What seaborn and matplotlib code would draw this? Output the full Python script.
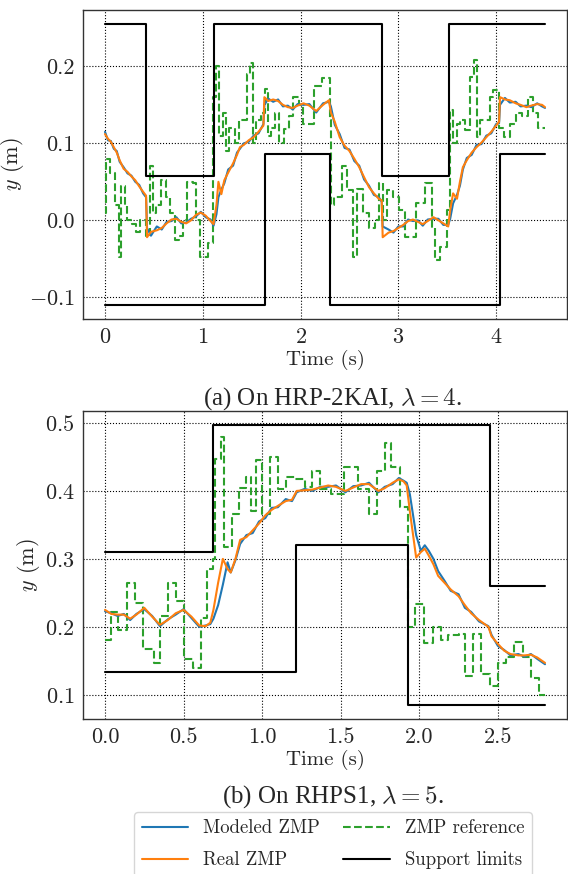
import numpy as np
import pandas as pd
import matplotlib
matplotlib.use("Agg")
import matplotlib.pyplot as plt
import seaborn as sns

# ---- (a) HRP-2KAI ----
t_top = [0.00, 0.03, 0.06, 0.09, 0.12, 0.15, 0.19, 0.23, 0.27, 0.31, 0.35, 0.39, 0.42, 0.43,
         0.47, 0.53, 0.58, 0.63, 0.68, 0.73, 0.78, 0.83, 0.88, 0.93, 0.98, 1.03, 1.08, 1.11,
         1.14, 1.16, 1.19, 1.22, 1.26, 1.31, 1.35, 1.38, 1.42, 1.47, 1.52, 1.57, 1.62, 1.63,
         1.67, 1.72, 1.77, 1.82, 1.87, 1.92, 1.97, 2.03, 2.09, 2.16, 2.23, 2.29, 2.31, 2.35,
         2.40, 2.45, 2.50, 2.55, 2.60, 2.65, 2.70, 2.75, 2.80, 2.83, 2.84, 2.90, 2.95, 3.00,
         3.05, 3.10, 3.15, 3.20, 3.25, 3.30, 3.36, 3.41, 3.46, 3.51, 3.53, 3.56, 3.60, 3.63,
         3.66, 3.70, 3.75, 3.80, 3.85, 3.90, 3.95, 4.00, 4.03, 4.04, 4.09, 4.14, 4.20, 4.25,
         4.31, 4.36, 4.42, 4.47, 4.50]
real_top = [0.112, 0.106, 0.102, 0.095, 0.088, 0.078, 0.067, 0.063, 0.057, 0.052, 0.044, 0.037,
            0.032, -0.022, -0.015, -0.013, -0.010, -0.004, 0.001, 0.002, -0.002, -0.004, 0.000,
            0.007, 0.010, 0.006, -0.001, -0.005, 0.020, 0.050, 0.034, 0.052, 0.062, 0.074, 0.085,
            0.095, 0.098, 0.104, 0.108, 0.115, 0.123, 0.160, 0.155, 0.157, 0.155, 0.150, 0.147,
            0.146, 0.149, 0.152, 0.149, 0.142, 0.150, 0.156, 0.140, 0.128, 0.108, 0.097, 0.090,
            0.080, 0.069, 0.056, 0.043, 0.035, 0.028, 0.026, -0.022, -0.016, -0.014, -0.010,
            -0.006, -0.001, 0.001, -0.002, -0.005, -0.001, 0.004, 0.000, -0.004, -0.008, 0.013,
            0.035, 0.028, 0.050, 0.069, 0.078, 0.088, 0.095, 0.101, 0.108, 0.115, 0.123, 0.128,
            0.160, 0.157, 0.156, 0.152, 0.150, 0.147, 0.149, 0.151, 0.150, 0.147]
model_top = [0.115, 0.104, 0.103, 0.093, 0.090, 0.076, 0.069, 0.061, 0.058, 0.050, 0.046, 0.035,
             0.030, -0.010, -0.020, -0.008, -0.012, -0.002, -0.001, 0.004, -0.004, -0.003, 0.002,
             0.005, 0.011, 0.004, 0.001, -0.007, 0.008, 0.030, 0.040, 0.048, 0.066, 0.071, 0.088,
             0.093, 0.100, 0.102, 0.110, 0.113, 0.125, 0.150, 0.158, 0.154, 0.157, 0.148, 0.149,
             0.144, 0.151, 0.150, 0.151, 0.140, 0.152, 0.154, 0.148, 0.124, 0.112, 0.094, 0.092,
             0.077, 0.071, 0.053, 0.045, 0.033, 0.030, 0.024, -0.008, -0.012, -0.016, -0.008,
             -0.008, 0.001, -0.001, 0.000, -0.007, 0.001, 0.002, 0.002, -0.006, -0.006, 0.002,
             0.022, 0.033, 0.045, 0.066, 0.081, 0.085, 0.098, 0.099, 0.110, 0.113, 0.125, 0.126,
             0.150, 0.159, 0.153, 0.154, 0.148, 0.149, 0.147, 0.152, 0.148, 0.146]

t_ref_top = [0.00, 0.01, 0.05, 0.10, 0.14, 0.16, 0.20, 0.23, 0.28, 0.32, 0.36, 0.42, 0.46, 0.49,
             0.52, 0.57, 0.62, 0.66, 0.72, 0.76, 0.80, 0.84, 0.90, 0.93, 0.97, 1.05, 1.10, 1.14,
             1.17, 1.21, 1.24, 1.27, 1.33, 1.37, 1.41, 1.45, 1.48, 1.51, 1.54, 1.60, 1.64, 1.67,
             1.70, 1.74, 1.78, 1.83, 1.88, 1.92, 1.98, 2.03, 2.14, 2.22, 2.30, 2.31, 2.34, 2.42,
             2.47, 2.54, 2.58, 2.64, 2.70, 2.76, 2.80, 2.84, 2.88, 2.95, 3.01, 3.07, 3.18, 3.27,
             3.34, 3.38, 3.43, 3.50, 3.53, 3.56, 3.60, 3.63, 3.68, 3.73, 3.77, 3.80, 3.84, 3.90,
             3.94, 3.97, 4.03, 4.08, 4.14, 4.20, 4.26, 4.33, 4.38, 4.43, 4.47, 4.50]
ref_top = [0.010, 0.080, 0.062, 0.020, -0.048, 0.045, 0.020, 0.000, -0.005, -0.015, 0.000, -0.020,
           0.070, 0.010, 0.020, 0.052, 0.030, 0.010, -0.025, -0.020, 0.000, 0.050, 0.048, 0.000,
           -0.048, -0.030, 0.160, 0.200, 0.110, 0.140, 0.090, 0.120, 0.100, 0.130, 0.130, 0.190,
           0.205, 0.100, 0.130, 0.140, 0.170, 0.110, 0.120, 0.140, 0.100, 0.118, 0.135, 0.160,
           0.150, 0.125, 0.175, 0.185, 0.130, 0.020, 0.030, 0.070, 0.040, -0.048, 0.041, 0.010,
           -0.010, 0.000, 0.048, 0.000, 0.040, 0.030, 0.013, -0.022, 0.022, 0.048, -0.010, -0.052,
           -0.035, 0.013, 0.143, 0.100, 0.125, 0.130, 0.117, 0.186, 0.208, 0.108, 0.130, 0.130,
           0.160, 0.169, 0.120, 0.108, 0.125, 0.140, 0.135, 0.160, 0.140, 0.120, 0.120, 0.120]

t_sup_top = [0.0, 0.42, 1.11, 2.83, 3.52, 4.50]
sup_hi_top = [0.255, 0.058, 0.255, 0.058, 0.255, 0.255]
t_sup_top_lo = [0.0, 1.64, 2.30, 4.04, 4.50]
sup_lo_top = [-0.110, 0.086, -0.110, 0.086, 0.086]

# ---- (b) RHPS1 ----
t_bot = [0.00, 0.04, 0.08, 0.12, 0.16, 0.20, 0.25, 0.30, 0.35, 0.40, 0.45, 0.50, 0.55, 0.60,
         0.64, 0.67, 0.69, 0.72, 0.75, 0.78, 0.80, 0.83, 0.86, 0.90, 0.94, 0.98, 1.02, 1.06,
         1.10, 1.15, 1.19, 1.22, 1.27, 1.32, 1.37, 1.42, 1.47, 1.53, 1.58, 1.63, 1.68, 1.74,
         1.78, 1.83, 1.87, 1.90, 1.92, 1.94, 1.98, 2.01, 2.035, 2.06, 2.09, 2.12, 2.16, 2.20,
         2.25, 2.29, 2.33, 2.38, 2.44, 2.46, 2.50, 2.54, 2.58, 2.63, 2.67, 2.71, 2.75, 2.80]
real_bot = [0.225, 0.219, 0.218, 0.218, 0.212, 0.218, 0.228, 0.215, 0.203, 0.210, 0.220, 0.225,
            0.215, 0.202, 0.201, 0.206, 0.225, 0.265, 0.300, 0.285, 0.280, 0.300, 0.328, 0.332,
            0.342, 0.352, 0.364, 0.372, 0.378, 0.385, 0.387, 0.400, 0.401, 0.402, 0.405, 0.408,
            0.406, 0.400, 0.405, 0.410, 0.410, 0.400, 0.404, 0.412, 0.417, 0.414, 0.408, 0.370,
            0.302, 0.310, 0.315, 0.305, 0.292, 0.275, 0.265, 0.255, 0.245, 0.232, 0.220, 0.210,
            0.200, 0.186, 0.175, 0.165, 0.160, 0.158, 0.158, 0.159, 0.155, 0.147]
model_bot = [0.223, 0.220, 0.216, 0.219, 0.210, 0.219, 0.226, 0.216, 0.201, 0.211, 0.218, 0.226,
             0.213, 0.200, 0.202, 0.204, 0.212, 0.232, 0.262, 0.295, 0.280, 0.298, 0.322, 0.335,
             0.338, 0.355, 0.360, 0.375, 0.376, 0.388, 0.385, 0.398, 0.403, 0.400, 0.406, 0.406,
             0.408, 0.398, 0.407, 0.408, 0.412, 0.398, 0.406, 0.410, 0.419, 0.415, 0.412, 0.395,
             0.335, 0.312, 0.320, 0.312, 0.300, 0.282, 0.268, 0.253, 0.248, 0.228, 0.222, 0.208,
             0.201, 0.188, 0.172, 0.166, 0.158, 0.160, 0.156, 0.160, 0.153, 0.145]

t_ref_bot = [0.00, 0.04, 0.08, 0.14, 0.19, 0.24, 0.31, 0.35, 0.40, 0.45, 0.50, 0.56, 0.61, 0.65,
             0.69, 0.70, 0.74, 0.76, 0.81, 0.855, 0.90, 0.93, 0.96, 1.00, 1.05, 1.10, 1.15, 1.21,
             1.27, 1.32, 1.37, 1.44, 1.52, 1.61, 1.68, 1.73, 1.78, 1.82, 1.88, 1.93, 1.97, 2.03,
             2.09, 2.14, 2.18, 2.25, 2.29, 2.34, 2.39, 2.45, 2.50, 2.55, 2.60, 2.66, 2.71, 2.76,
             2.80]
ref_bot = [0.181, 0.222, 0.195, 0.265, 0.235, 0.167, 0.147, 0.216, 0.265, 0.238, 0.152, 0.140,
           0.213, 0.285, 0.300, 0.447, 0.480, 0.317, 0.366, 0.405, 0.420, 0.370, 0.445, 0.366,
           0.450, 0.403, 0.420, 0.418, 0.406, 0.430, 0.403, 0.395, 0.435, 0.403, 0.366, 0.430,
           0.470, 0.435, 0.376, 0.200, 0.233, 0.176, 0.200, 0.180, 0.188, 0.190, 0.127, 0.190,
           0.130, 0.113, 0.147, 0.155, 0.177, 0.155, 0.125, 0.100, 0.100]

t_sup_bot_hi = [0.0, 0.69, 2.45, 2.80]
sup_hi_bot = [0.310, 0.497, 0.260, 0.260]
t_sup_bot_lo = [0.0, 1.215, 1.925, 2.80]
sup_lo_bot = [0.134, 0.321, 0.085, 0.085]

sns.set_style("whitegrid")
plt.rcParams.update({
    "font.family": "serif",
    "font.serif": ["cmr10"],
    "mathtext.fontset": "cm",
    "axes.formatter.use_mathtext": True,
    "axes.unicode_minus": True,
    "grid.color": "black",
    "grid.linestyle": ":",
    "grid.linewidth": 0.8,
    "axes.edgecolor": "0.2",
    "axes.linewidth": 1.0,
})

blue, orange, green = "#1f77b4", "#ff7f0e", "#2ca02c"

fig = plt.figure(figsize=(5.68, 8.74), dpi=100)
ax1 = fig.add_axes([83 / 568, 1 - 319 / 874, 484 / 568, 309 / 874])
ax2 = fig.add_axes([83 / 568, 1 - 719 / 874, 484 / 568, 308 / 874])

panels = [
    (ax1, t_top, model_top, real_top, t_ref_top, ref_top,
     t_sup_top, sup_hi_top, t_sup_top_lo, sup_lo_top),
    (ax2, t_bot, model_bot, real_bot, t_ref_bot, ref_bot,
     t_sup_bot_hi, sup_hi_bot, t_sup_bot_lo, sup_lo_bot),
]

for ax, t, mod, real, tr, ref, ths, shi, tls, slo in panels:
    sns.lineplot(x=tr, y=ref, ax=ax, color=green, linestyle="--", lw=1.5,
                 drawstyle="steps-post", estimator=None, sort=False, label="ZMP reference")
    sns.lineplot(x=t, y=mod, ax=ax, color=blue, lw=1.5, estimator=None, sort=False,
                 label="Modeled ZMP")
    sns.lineplot(x=t, y=real, ax=ax, color=orange, lw=1.5, estimator=None, sort=False,
                 label="Real ZMP")
    sns.lineplot(x=ths, y=shi, ax=ax, color="black", lw=1.5, drawstyle="steps-post",
                 estimator=None, sort=False, label="Support limits")
    sns.lineplot(x=tls, y=slo, ax=ax, color="black", lw=1.5, drawstyle="steps-post",
                 estimator=None, sort=False)
    if ax.get_legend() is not None:
        ax.get_legend().remove()
    ax.set_xlabel("Time (s)", fontsize=15, labelpad=2)
    ax.set_ylabel("$y$ (m)", fontsize=16, labelpad=2)
    ax.tick_params(labelsize=16, length=0, pad=6)
    ax.margins(x=0.05, y=0.05)

ax1.set_xticks([0, 1, 2, 3, 4])
ax1.set_yticks([-0.1, 0.0, 0.1, 0.2])
ax2.set_xticks([0.0, 0.5, 1.0, 1.5, 2.0, 2.5])
ax2.set_yticks([0.1, 0.2, 0.3, 0.4, 0.5])
ax2.xaxis.set_major_formatter(matplotlib.ticker.FormatStrFormatter("%.1f"))
ax1.yaxis.set_major_formatter(matplotlib.ticker.FuncFormatter(
    lambda v, p: "$-0.1$" if v < -0.05 else f"{v:.1f}"))

fig.text(0.586, 1 - 399 / 874, r"(a) On HRP-2KAI, $\lambda = 4$.", ha="center", va="center",
         fontsize=18, family="Liberation Serif")
fig.text(0.586, 1 - 797 / 874, r"(b) On RHPS1, $\lambda = 5$.", ha="center", va="center",
         fontsize=18, family="Liberation Serif")

h, l = ax1.get_legend_handles_labels()
order = ["Modeled ZMP", "Real ZMP", "ZMP reference", "Support limits"]
hmap = dict(zip(l, h))
fig.legend([hmap[k] for k in order], order, loc="upper center", ncol=2,
           bbox_to_anchor=(0.586, 1 - 812 / 874), borderaxespad=0, fontsize=13.5,
           handlelength=2.5, columnspacing=1.2, labelspacing=0.75, frameon=True,
           edgecolor="0.8", fancybox=True)

fig.savefig("out.png", dpi=100)
